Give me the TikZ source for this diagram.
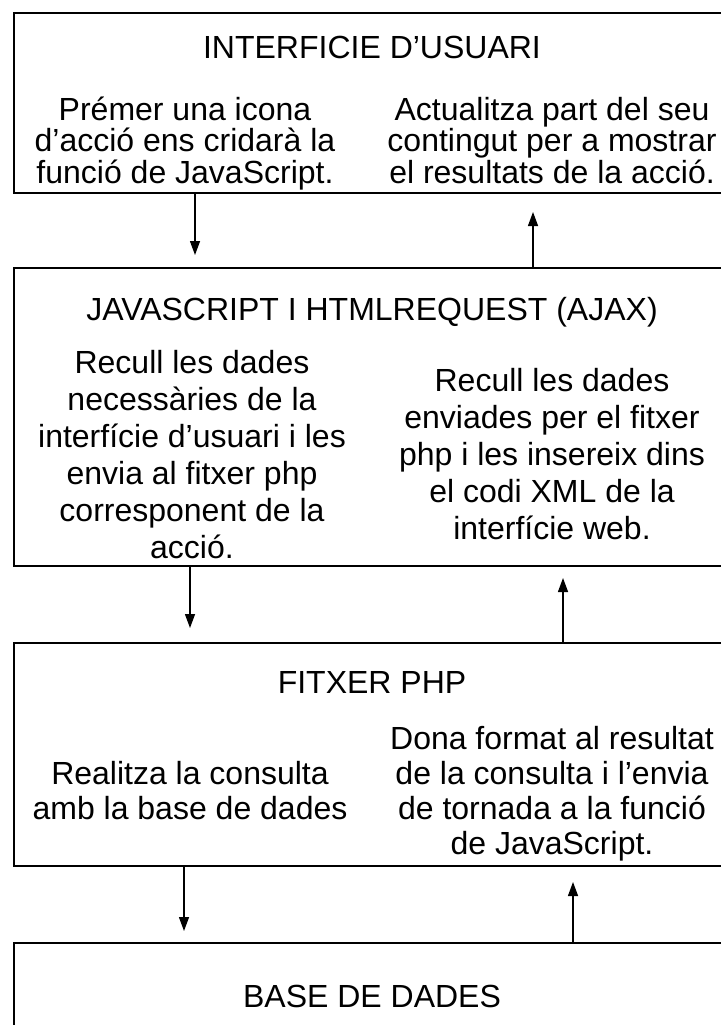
\documentclass[tikz,border=0pt]{standalone}
\usepackage{fontspec}
\setmainfont{Liberation Sans}
\usetikzlibrary{arrows.meta}

\begin{document}
\begin{tikzpicture}[
    x=1bp, y=-1bp,
    layer/.style={
        rectangle,
        draw=black,
        line width=2.4bp,
        anchor=north west,
        minimum width=730bp,
        inner sep=0pt,
        outer sep=0pt
    },
    heading/.style={anchor=base, inner sep=0pt, font=\fontsize{32bp}{36bp}\selectfont},
    col/.style={anchor=base, inner sep=0pt, align=center, font=\fontsize{32bp}{#1}\selectfont},
    flow/.style={line width=1.3bp, -{Triangle[width=10bp,length=14bp]}}
]
\useasboundingbox (0,0) rectangle (721,1025);

% Layers (open to the right, cut by the page)
\node[layer, minimum height=180bp] (ui) at (14,13) {};
\node[layer, minimum height=298bp] (js) at (14,268) {};
\node[layer, minimum height=223bp] (php) at (14,643) {};
\node[layer, minimum height=120bp] (db) at (14,943) {};

% Titles
\node[heading] (uiT) at (372,58) {INTERFICIE D’USUARI};
\node[heading] (jsT) at (372,320) {JAVASCRIPT I HTMLREQUEST (AJAX)};
\node[heading] (phpT) at (372,693) {FITXER PHP};
\node[heading] (dbT) at (372,1007) {BASE DE DADES};

% Two columns in each layer (placed at the last line)
\node[col=31.5bp] (uiL) at (185,183) {Prémer una icona\\d’acció ens cridarà la\\funció de JavaScript.};
\node[col=31.5bp] (uiR) at (552,183) {Actualitza part del seu\\contingut per a mostrar\\el resultats de la acció.};

\node[col=37bp] (jsL) at (192,558) {Recull les dades\\necessàries de la\\interfície d’usuari i les\\envia al fitxer php\\corresponent de la\\acció.};
\node[col=37bp] (jsR) at (552,539.5) {Recull les dades\\enviades per el fitxer\\php i les insereix dins\\el codi XML de la\\interfície web.};

\node[col=35bp] (phpL) at (190,819) {Realitza la consulta\\amb la base de dades};
\node[col=35bp] (phpR) at (552,854) {Dona format al resultat\\de la consulta i l’envia\\de tornada a la funció\\de JavaScript.};

% Calls down, answers up
\draw[flow] ([xshift=181bp]ui.south west) -- ([xshift=181bp,yshift=13bp]js.north west);
\draw[flow] ([xshift=519bp]js.north west) -- ([xshift=519bp,yshift=-19bp]ui.south west);
\draw[flow] ([xshift=176bp]js.south west) -- ([xshift=176bp,yshift=15bp]php.north west);
\draw[flow] ([xshift=549bp]php.north west) -- ([xshift=549bp,yshift=-12bp]js.south west);
\draw[flow] ([xshift=170bp]php.south west) -- ([xshift=170bp,yshift=12bp]db.north west);
\draw[flow] ([xshift=559bp]db.north west) -- ([xshift=559bp,yshift=-16bp]php.south west);

\end{tikzpicture}
\end{document}
